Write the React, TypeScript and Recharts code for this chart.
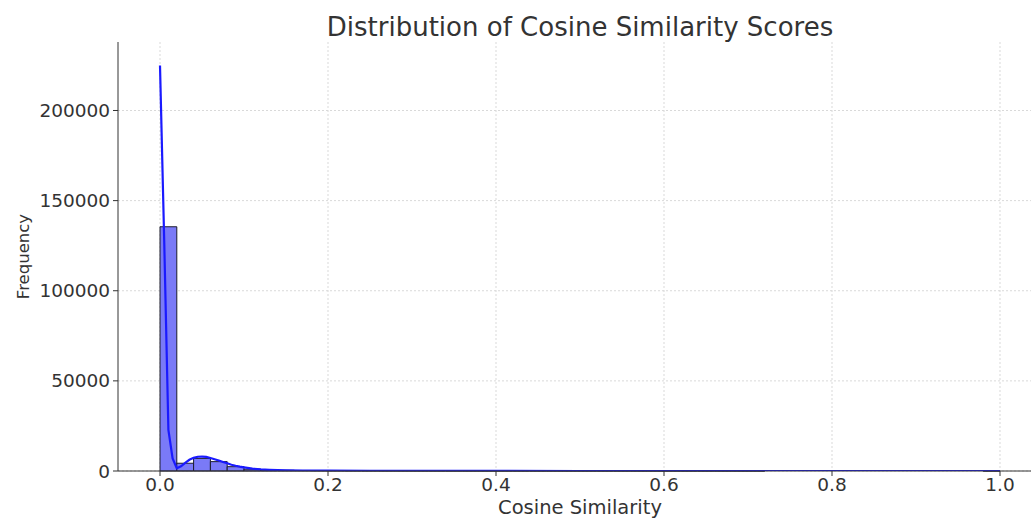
import React from "react";
import {
  ComposedChart,
  Line,
  XAxis,
  YAxis,
  CartesianGrid,
  ReferenceArea,
} from "recharts";

// Histogram: 50 bins of width 0.02 over [0, 1]
const binWidth = 0.02;
const binCounts = [
  135500, 4300, 7000, 5200, 2400, 1000, 600, 400, 280, 200,
  150, 110, 80, 60, 45, 35, 28, 22, 17, 13,
  10, 8, 6, 5, 4, 3, 3, 2, 2, 2,
  1, 1, 1, 1, 1, 1, 0, 0, 0, 0,
  0, 0, 0, 0, 0, 0, 0, 0, 0, 1,
];

// KDE curve (scaled to counts)
const kdeX = [
  0, 0.005, 0.01, 0.015, 0.02, 0.025, 0.03, 0.035, 0.04, 0.045,
  0.05, 0.055, 0.06, 0.065, 0.07, 0.075, 0.08, 0.085, 0.09, 0.095,
  0.1, 0.11, 0.12, 0.13, 0.14, 0.15, 0.17, 0.2, 0.25, 0.3,
  0.4, 0.5, 0.6, 0.7, 0.8, 0.9, 1.0,
];
const kdeY = [
  225000, 128000, 22800, 7000, 1500, 2600, 4500, 6200, 7300, 7900,
  8000, 7800, 7200, 6500, 5800, 5000, 4300, 3500, 2900, 2400,
  2000, 1300, 900, 650, 500, 400, 280, 180, 90, 50,
  20, 10, 5, 3, 2, 1, 0,
];

const xTicks = [0, 0.2, 0.4, 0.6, 0.8, 1.0];
const yTicks = [0, 50000, 100000, 150000, 200000];

const kdeData = kdeX.map((x, i) => ({ x, y: kdeY[i] }));
const bins = binCounts.map((c, i) => ({
  x1: i * binWidth,
  x2: (i + 1) * binWidth,
  count: c,
}));

const FONT = "'DejaVu Sans', sans-serif";
const TEXT = "#333333";

const XLabel = (props: any) => {
  const { viewBox } = props;
  const cx = viewBox.x + viewBox.width / 2;
  return (
    <text
      x={cx}
      y={514}
      textAnchor="middle"
      fontFamily={FONT}
      fontSize={19.5}
      fill={TEXT}
    >
      Cosine Similarity
    </text>
  );
};

const YLabel = (props: any) => {
  const { viewBox } = props;
  const cy = viewBox.y + viewBox.height / 2;
  return (
    <text
      x={29}
      y={cy}
      transform={`rotate(-90, 29, ${cy})`}
      textAnchor="middle"
      fontFamily={FONT}
      fontSize={16.5}
      fill={TEXT}
    >
      Frequency
    </text>
  );
};

export default function App() {
  return (
    <div
      style={{
        position: "absolute",
        left: 0,
        top: 0,
        width: 1031,
        height: 519,
        overflow: "hidden",
        background: "#fff",
      }}
    >
      <div
        style={{
          position: "absolute",
          left: 0,
          width: 1160,
          top: 12,
          textAlign: "center",
          fontFamily: FONT,
          fontSize: 26,
          color: TEXT,
          lineHeight: "30px",
        }}
      >
        Distribution of Cosine Similarity Scores
      </div>
      <ComposedChart
        width={1060}
        height={519}
        data={kdeData}
        margin={{ top: 42, right: 18, bottom: 18, left: 0 }}
        style={{ position: "absolute", left: 0, top: 0 }}
      >
        <CartesianGrid
          stroke="#d9d9d9"
          strokeDasharray="2 2"
          verticalValues={xTicks}
          horizontalValues={yTicks}
        />
        <XAxis
          type="number"
          dataKey="x"
          domain={[-0.05, 1.05]}
          ticks={xTicks}
          tickFormatter={(v: number) => v.toFixed(1)}
          height={30}
          tickSize={5}
          tickMargin={2}
          allowDataOverflow
          stroke="#333"
          tick={{ fill: TEXT, fontSize: 18.5, fontFamily: FONT }}
          label={<XLabel />}
        />
        <YAxis
          type="number"
          domain={[0, 238000]}
          ticks={yTicks}
          width={118}
          tickSize={5}
          tickMargin={3}
          allowDataOverflow
          stroke="#333"
          tick={{ fill: TEXT, fontSize: 18.5, fontFamily: FONT }}
          label={<YLabel />}
        />
        {bins.map((b, i) => (
          <ReferenceArea
            key={i}
            x1={b.x1}
            x2={b.x2}
            y1={0}
            y2={b.count}
            fill="#7a7af7"
            fillOpacity={1}
            stroke="#1c1c2c"
            strokeWidth={1}
            strokeOpacity={1}
          />
        ))}
        <Line
          type="linear"
          dataKey="y"
          stroke="#1a1aff"
          strokeWidth={2.2}
          dot={false}
          activeDot={false}
          isAnimationActive={false}
        />
      </ComposedChart>
    </div>
  );
}
